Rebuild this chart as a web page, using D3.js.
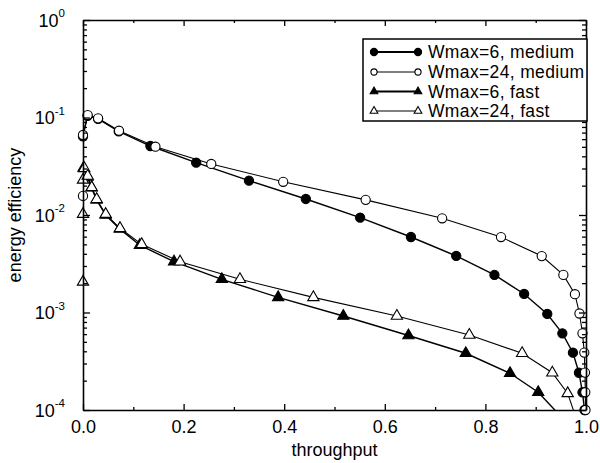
<!DOCTYPE html>
<html>
<head>
<meta charset="utf-8">
<script src="https://cdn.jsdelivr.net/npm/d3@7"></script>
<style>
    body { margin: 0; background: #fff; }
    svg { display: block; font-family: "Liberation Sans", Arial, Helvetica, sans-serif; }
</style>
</head>
<body>
<div id="chart"></div>
<script>
// series: Wmax=6, medium (filled circles)
const tputW6Medium = [0, 0.009, 0.03, 0.071, 0.134, 0.225, 0.330, 0.443, 0.551, 0.652, 0.742, 0.818, 0.877, 0.923, 0.953, 0.974, 0.986, 0.993, 0.997];
const effW6Medium = [0.064, 0.104, 0.097, 0.072, 0.0510, 0.0344, 0.0225, 0.0146, 0.00938, 0.00595, 0.00380, 0.00243, 0.00155, 0.000966, 0.000612, 0.000387, 0.000241, 0.000152, 0.0001];

// series: Wmax=24, medium (open circles)
const tputW24Medium = [0, 0, 0.0093, 0.030, 0.0716, 0.144, 0.255, 0.398, 0.562, 0.714, 0.831, 0.912, 0.955, 0.978, 0.987, 0.993, 0.9966, 0.998, 0.9986, 0.999];
const effW24Medium = [0.0157, 0.0662, 0.106, 0.098, 0.0732, 0.0502, 0.0334, 0.0219, 0.0143, 0.00925, 0.00594, 0.00379, 0.00243, 0.00154, 0.000977, 0.000612, 0.000388, 0.000242, 0.000152, 0.0001];

// series: Wmax=6, fast (filled triangles)
const tputW6Fast = [0.001, 0.009, 0.017, 0.027, 0.045, 0.073, 0.113, 0.181, 0.276, 0.388, 0.5175, 0.647, 0.761, 0.849, 0.905, 0.966];
const effW6Fast = [0.0303, 0.0245, 0.019, 0.0143, 0.0100, 0.0072, 0.0049, 0.00332, 0.00219, 0.00143, 0.00092, 0.000581, 0.000382, 0.000238, 0.000152, 0.0000702];

// series: Wmax=24, fast (open triangles)
const tputW24Fast = [0, 0, 0, 0.0026, 0.0093, 0.0173, 0.0272, 0.0451, 0.0736, 0.1167, 0.193, 0.312, 0.458, 0.624, 0.768, 0.873, 0.933, 0.9636, 0.985];
const effW24Fast = [0.00206, 0.0102, 0.0229, 0.0301, 0.0251, 0.0192, 0.0145, 0.0102, 0.00731, 0.00500, 0.00332, 0.00219, 0.00143, 0.00092, 0.000587, 0.000382, 0.000241, 0.000148, 0.0000702];

const seriesNames = ["Wmax=6, medium", "Wmax=24, medium", "Wmax=6, fast", "Wmax=24, fast"];
const xTicks = [0, 0.2, 0.4, 0.6, 0.8, 1.0];
const xMinorTicks = [0.1, 0.3, 0.5, 0.7, 0.9];
const yDecades = [0, -1, -2, -3, -4];

const width = 600;
const height = 463;
const margin = { top: 20, right: 14, bottom: 53, left: 83 };

const svg = d3.select("#chart")
    .append("svg")
    .attr("width", width)
    .attr("height", height);

const x = d3.scaleLinear()
    .domain([0, 1])
    .range([margin.left, width - margin.right]);

const y = d3.scaleLog()
    .domain([1e-4, 1])
    .range([height - margin.bottom, margin.top]);

const series = [
    { name: seriesNames[0], xs: tputW6Medium, ys: effW6Medium, shape: "circle", filled: true, lw: 1.4 },
    { name: seriesNames[1], xs: tputW24Medium, ys: effW24Medium, shape: "circle", filled: false, lw: 1.1 },
    { name: seriesNames[2], xs: tputW6Fast, ys: effW6Fast, shape: "triangle", filled: true, lw: 1.4 },
    { name: seriesNames[3], xs: tputW24Fast, ys: effW24Fast, shape: "triangle", filled: false, lw: 1.1 }
];

svg.append("clipPath")
    .attr("id", "plotClip")
    .append("rect")
    .attr("x", x(0))
    .attr("y", y(1))
    .attr("width", x(1) - x(0))
    .attr("height", y(1e-4) - y(1));

const line = d3.line()
    .x(d => x(d[0]))
    .y(d => y(d[1]));

function drawMarker(g, shape, filled, cx, cy, size) {
    if (shape === "circle") {
        g.append("circle")
            .attr("cx", cx)
            .attr("cy", cy)
            .attr("r", size)
            .attr("fill", filled ? "#000" : "#fff")
            .attr("stroke", "#000")
            .attr("stroke-width", 1.1);
    } else {
        g.append("path")
            .attr("d", d3.symbol(d3.symbolTriangle, size * size * 2.2)())
            .attr("transform", `translate(${cx},${cy})`)
            .attr("fill", filled ? "#000" : "#fff")
            .attr("stroke", "#000")
            .attr("stroke-width", 1.1);
    }
}

// lines and markers
const plot = svg.append("g");
series.forEach(s => {
    const pts = s.xs.map((v, i) => [v, s.ys[i]]);
    plot.append("path")
        .datum(pts)
        .attr("clip-path", "url(#plotClip)")
        .attr("fill", "none")
        .attr("stroke", "#000")
        .attr("stroke-width", s.lw)
        .attr("d", line);
    const mg = plot.append("g");
    pts.filter(p => p[1] >= 1e-4).forEach(p => {
        drawMarker(mg, s.shape, s.filled, x(p[0]), y(p[1]), s.shape === "circle" ? 4.6 : 5);
    });
});

// axes (ticks pointing inward)
const yMinor = y.ticks().filter(v => Math.abs(Math.log10(v) - Math.round(Math.log10(v))) > 1e-6);
const yMajor = yDecades.map(e => Math.pow(10, e));

function addAxis(axis, transform) {
    const g = svg.append("g")
        .attr("transform", transform)
        .call(axis);
    g.select(".domain").attr("stroke-width", 1.6);
    g.selectAll(".tick line").attr("stroke-width", 1.3);
    return g;
}

const xb = addAxis(d3.axisBottom(x).tickValues(xTicks).tickSizeInner(-6).tickSizeOuter(0)
    .tickPadding(10).tickFormat(d3.format(".1f")), `translate(0,${y(1e-4)})`);
xb.selectAll("text").attr("font-size", 18).attr("fill", "#000").attr("font-family", null);
addAxis(d3.axisBottom(x).tickValues(xMinorTicks).tickSizeInner(-3).tickSizeOuter(0).tickFormat(""),
    `translate(0,${y(1e-4)})`).select(".domain").remove();
addAxis(d3.axisTop(x).tickValues(xTicks).tickSizeInner(-6).tickSizeOuter(0).tickFormat(""),
    `translate(0,${y(1)})`);
addAxis(d3.axisTop(x).tickValues(xMinorTicks).tickSizeInner(-3).tickSizeOuter(0).tickFormat(""),
    `translate(0,${y(1)})`).select(".domain").remove();

addAxis(d3.axisLeft(y).tickValues(yMajor).tickSizeInner(-7).tickSizeOuter(0).tickFormat(""),
    `translate(${x(0)},0)`);
addAxis(d3.axisLeft(y).tickValues(yMinor).tickSizeInner(-4).tickSizeOuter(0).tickFormat(""),
    `translate(${x(0)},0)`).select(".domain").remove();
addAxis(d3.axisRight(y).tickValues(yMajor).tickSizeInner(-7).tickSizeOuter(0).tickFormat(""),
    `translate(${x(1)},0)`);
addAxis(d3.axisRight(y).tickValues(yMinor).tickSizeInner(-4).tickSizeOuter(0).tickFormat(""),
    `translate(${x(1)},0)`).select(".domain").remove();

// y tick labels as 10^n
yDecades.forEach(e => {
    const t = svg.append("text")
        .attr("x", x(0) - 18)
        .attr("y", y(Math.pow(10, e)) + 6.5)
        .attr("text-anchor", "end")
        .attr("font-size", 18);
    t.append("tspan").text("10");
    t.append("tspan")
        .attr("dy", -9.5)
        .attr("font-size", 11.5)
        .text(e === 0 ? "0" : "-" + Math.abs(e));
});

// axis titles
svg.append("text")
    .attr("x", (x(0) + x(1)) / 2)
    .attr("y", 456)
    .attr("text-anchor", "middle")
    .attr("font-size", 18)
    .text("throughput");

svg.append("text")
    .attr("transform", "rotate(-90)")
    .attr("x", -(y(1) + y(1e-4)) / 2)
    .attr("y", 21)
    .attr("text-anchor", "middle")
    .attr("font-size", 18)
    .text("energy efficiency");

// legend
const legend = svg.append("g");
legend.append("rect")
    .attr("x", 363)
    .attr("y", 39)
    .attr("width", 224)
    .attr("height", 82)
    .attr("fill", "#fff")
    .attr("stroke", "#000")
    .attr("stroke-width", 1.5);

const rowY = [52, 72, 91.5, 111];
series.forEach((s, i) => {
    legend.append("line")
        .attr("x1", 374)
        .attr("x2", 418)
        .attr("y1", rowY[i])
        .attr("y2", rowY[i])
        .attr("stroke", "#000")
        .attr("stroke-width", s.filled ? 1.8 : 1.1);
    const sz = s.shape === "circle" ? (s.filled ? 3.6 : 3.1) : 3.4;
    drawMarker(legend, s.shape, s.filled, 374, rowY[i], sz);
    drawMarker(legend, s.shape, s.filled, 418, rowY[i], sz);
    legend.append("text")
        .attr("x", 428)
        .attr("y", rowY[i] + 6)
        .attr("font-size", 17.5)
        .attr("letter-spacing", 0.35)
        .text(s.name);
});
</script>
</body>
</html>
